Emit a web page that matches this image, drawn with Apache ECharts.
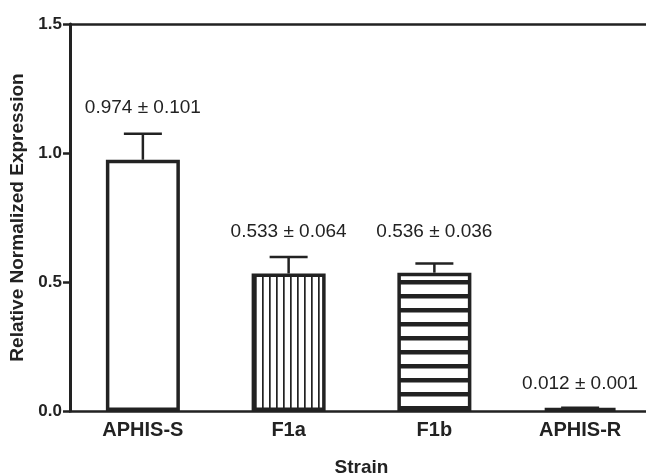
<!DOCTYPE html>
<html>
<head>
<meta charset="utf-8">
<script src="https://cdn.jsdelivr.net/npm/echarts@6/dist/echarts.min.js"></script>
<style>html,body{margin:0;padding:0;background:#fff;overflow:hidden;}#c{width:653px;height:476px;}</style>
</head>
<body>
<div id="c"></div>
<script>
var categories = ['APHIS-S', 'F1a', 'F1b', 'APHIS-R'];
var means = [0.974, 0.533, 0.536, 0.012];
var errors = [0.101, 0.064, 0.036, 0.001];
var labelY = [1.174, 0.694, 0.694, 0.105];
var yTicks = [0, 0.5, 1.0, 1.5];

var INK = '#222';
function makePattern(w, h, draw) {
  var c = document.createElement('canvas');
  c.width = w; c.height = h;
  var ctx = c.getContext('2d');
  ctx.fillStyle = '#fff';
  ctx.fillRect(0, 0, w, h);
  ctx.fillStyle = INK;
  draw(ctx);
  return { image: c, repeat: 'repeat' };
}
var vStripes = makePattern(7, 10, function (ctx) { ctx.fillRect(3, 0, 1.7, 10); });
var hStripes = makePattern(10, 14.5, function (ctx) { ctx.fillRect(0, 0, 10, 4.5); });
var fills = ['#fff', vStripes, hStripes, '#fff'];

var chart = echarts.init(document.getElementById('c'));
var fontFam = 'Liberation Sans, Arial, Helvetica, sans-serif';

chart.setOption({
  animation: false,
  backgroundColor: '#fff',
  grid: { left: 70, right: 0, top: 24, bottom: 65, containLabel: false, outerBoundsMode: 'none' },
  xAxis: [{
    type: 'category',
    data: categories,
    name: 'Strain',
    nameLocation: 'middle',
    nameGap: 47,
    nameTextStyle: { fontFamily: fontFam, fontWeight: 'bold', fontSize: 19, color: INK },
    axisLine: { lineStyle: { color: INK, width: 2.5 } },
    axisTick: { alignWithLabel: true, length: 6, lineStyle: { color: INK, width: 2.5 } },
    axisLabel: { margin: 9, fontFamily: fontFam, fontWeight: 'bold', fontSize: 20, color: INK }
  }, {
    type: 'category',
    data: categories,
    position: 'top',
    axisLine: { lineStyle: { color: INK, width: 2.5 } },
    axisTick: { show: false },
    axisLabel: { show: false }
  }],
  yAxis: {
    type: 'value',
    min: 0, max: 1.5, interval: 0.5,
    name: 'Relative Normalized Expression',
    nameLocation: 'middle',
    nameGap: 32,
    nameTextStyle: { fontFamily: fontFam, fontWeight: 'bold', fontSize: 19, color: INK },
    axisLine: { show: true, lineStyle: { color: INK, width: 3 } },
    axisTick: { show: true, length: 7, lineStyle: { color: INK, width: 2.5 } },
    splitLine: { show: false },
    axisLabel: {
      margin: 8, fontFamily: fontFam, fontWeight: 'bold', fontSize: 17, color: INK,
      formatter: function (v) { return v.toFixed(1); }
    }
  },
  series: [{
    type: 'bar',
    barWidth: 74,
    data: means.map(function (m, i) {
      return { value: m, itemStyle: { color: fills[i] } };
    }),
    itemStyle: { borderColor: INK, borderWidth: 3.5 },
    z: 2
  }, {
    type: 'custom',
    z: 3,
    data: means.map(function (m, i) { return [i, m, errors[i], labelY[i]]; }),
    renderItem: function (params, api) {
      var i = api.value(0), m = api.value(1), e = api.value(2), ly = api.value(3);
      var base = api.coord([i, m]);
      var top = api.coord([i, m + e]);
      var lab = api.coord([i, ly]);
      var half = 19;
      return {
        type: 'group',
        children: [{
          type: 'line',
          shape: { x1: base[0], y1: base[1], x2: top[0], y2: top[1] },
          style: { stroke: INK, lineWidth: 2.5 }
        }, {
          type: 'line',
          shape: { x1: top[0] - half, y1: top[1], x2: top[0] + half, y2: top[1] },
          style: { stroke: INK, lineWidth: 2.5 }
        }, {
          type: 'text',
          style: {
            x: lab[0], y: lab[1],
            text: m.toFixed(3) + ' \u00b1 ' + e.toFixed(3),
            fill: INK,
            font: '19px ' + fontFam,
            align: 'center', verticalAlign: 'middle'
          }
        }]
      };
    }
  }]
});
</script>
</body>
</html>
